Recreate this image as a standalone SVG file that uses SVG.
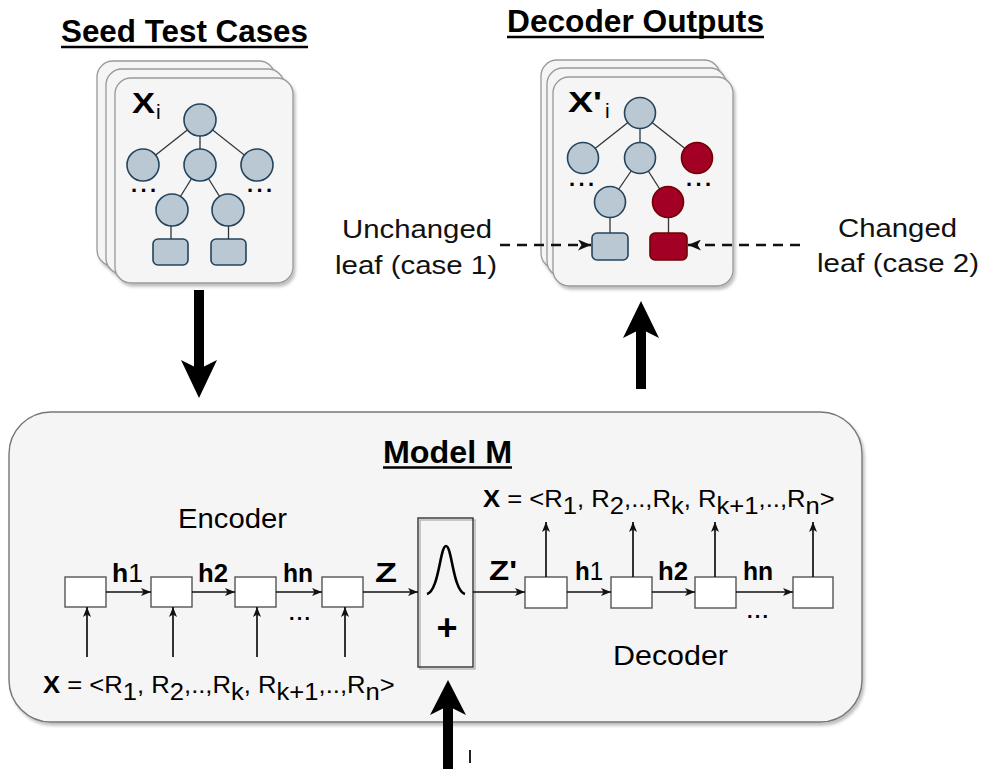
<svg xmlns="http://www.w3.org/2000/svg" width="982" height="769" viewBox="0 0 982 769">
<defs>
<style>
text{font-family:"Liberation Sans",Arial,sans-serif;fill:#000}
.title{font-weight:bold;font-size:31px}
.lbl{font-size:26px;fill:#111}
.card{fill:#f5f5f5;stroke:#999;stroke-width:1.3}
.tl{stroke:#333;stroke-width:1.3;fill:none}
.bn{fill:#bac8d3;stroke:#23445d;stroke-width:1.6}
.rn{fill:#a20025;stroke:#6f0000;stroke-width:1.6}
.cell{fill:#fff;stroke:#555;stroke-width:1.4}
.ar{stroke:#111;stroke-width:1.7;fill:none;marker-end:url(#ah)}
.dash{stroke:#111;stroke-width:2.6;fill:none;stroke-dasharray:10 7;marker-end:url(#dh)}
.big{fill:#000}
.ul{stroke:#000;stroke-width:2.5}
</style>
<marker id="ah" markerUnits="userSpaceOnUse" markerWidth="10" markerHeight="8" refX="10" refY="4" orient="auto">
<path d="M0,0 L10,4 L0,8 L2.5,4 z" fill="#111"/>
</marker>
<marker id="dh" markerUnits="userSpaceOnUse" markerWidth="13" markerHeight="11" refX="13" refY="5.5" orient="auto">
<path d="M0,0 L13,5.5 L0,11 L3.5,5.5 z" fill="#111"/>
</marker>
<filter id="sh" x="-10%" y="-10%" width="130%" height="130%">
<feDropShadow dx="2" dy="3" stdDeviation="1.5" flood-color="#000" flood-opacity="0.25"/>
</filter>
</defs>
<rect width="982" height="769" fill="#fff"/>

<g id="title-seed">
<text class="title" x="61" y="42" textLength="247" lengthAdjust="spacingAndGlyphs">Seed Test Cases</text>
<line class="ul" x1="61" y1="47" x2="308" y2="47"/>
</g>
<g id="title-decoder">
<text class="title" x="507" y="32" textLength="257" lengthAdjust="spacingAndGlyphs">Decoder Outputs</text>
<line class="ul" x1="507" y1="37" x2="764" y2="37"/>
</g>

<g id="seed-cards">
<rect class="card" x="97" y="61" width="178" height="205" rx="16" filter="url(#sh)"/>
<rect class="card" x="106" y="69" width="178" height="205" rx="16" filter="url(#sh)"/>
<rect class="card" x="115" y="78" width="178" height="205" rx="16" filter="url(#sh)"/>
<text x="132" y="113" font-size="29" font-weight="bold" textLength="23" lengthAdjust="spacingAndGlyphs">X</text>
<text x="156" y="119" font-size="21">i</text>
<g class="tl">
<line x1="200" y1="120" x2="143" y2="165"/><line x1="200" y1="120" x2="200" y2="165"/><line x1="200" y1="120" x2="257" y2="165"/>
<line x1="200" y1="165" x2="172" y2="210"/><line x1="200" y1="165" x2="228" y2="210"/>
<line x1="171" y1="210" x2="171" y2="239"/><line x1="228.5" y1="210" x2="228.5" y2="239"/>
</g>
<circle class="bn" cx="200" cy="120" r="16"/>
<circle class="bn" cx="143" cy="165" r="16"/>
<circle class="bn" cx="200" cy="165" r="16"/>
<circle class="bn" cx="257" cy="165" r="16"/>
<circle class="bn" cx="172" cy="210" r="16"/>
<circle class="bn" cx="228" cy="210" r="16"/>
<rect class="bn" x="153" y="239" width="35" height="26" rx="5"/>
<rect class="bn" x="211" y="239" width="35" height="26" rx="5"/>
<text x="131" y="192" font-size="22" font-weight="bold" textLength="25">...</text>
<text x="247" y="192" font-size="22" font-weight="bold" textLength="25">...</text>
</g>

<g id="decoder-cards">
<rect class="card" x="541" y="60" width="179" height="209" rx="16" filter="url(#sh)"/>
<rect class="card" x="547" y="68" width="179" height="209" rx="16" filter="url(#sh)"/>
<rect class="card" x="553" y="77" width="180" height="209" rx="16" filter="url(#sh)"/>
<text x="568" y="112" font-size="29" font-weight="bold" textLength="34" lengthAdjust="spacingAndGlyphs">X'</text>
<text x="605" y="118" font-size="21">i</text>
<g class="tl">
<line x1="640" y1="113" x2="583" y2="158"/><line x1="640" y1="113" x2="640" y2="158"/><line x1="640" y1="113" x2="697" y2="158"/>
<line x1="640" y1="158" x2="610" y2="202"/><line x1="640" y1="158" x2="668" y2="202"/>
<line x1="610" y1="202" x2="610" y2="233"/><line x1="668.5" y1="202" x2="668.5" y2="233"/>
</g>
<circle class="bn" cx="640" cy="113" r="15.5"/>
<circle class="bn" cx="583" cy="158" r="15.5"/>
<circle class="bn" cx="640" cy="158" r="15.5"/>
<circle class="rn" cx="697" cy="158" r="15.5"/>
<circle class="bn" cx="610" cy="202" r="15.5"/>
<circle class="rn" cx="668" cy="202" r="15.5"/>
<rect class="bn" x="592" y="233" width="36" height="27" rx="5"/>
<rect class="rn" x="650" y="233" width="37" height="27" rx="5"/>
<text x="569" y="186" font-size="22" font-weight="bold" textLength="25">...</text>
<text x="686" y="186" font-size="22" font-weight="bold" textLength="25">...</text>
</g>

<g id="label-unchanged">
<text class="lbl" x="342" y="238" textLength="150" lengthAdjust="spacingAndGlyphs">Unchanged</text>
<text class="lbl" x="335" y="274" textLength="162" lengthAdjust="spacingAndGlyphs">leaf (case 1)</text>
</g>
<g id="label-changed">
<text class="lbl" x="838" y="237" textLength="119" lengthAdjust="spacingAndGlyphs">Changed</text>
<text class="lbl" x="817" y="272" textLength="162" lengthAdjust="spacingAndGlyphs">leaf (case 2)</text>
</g>

<g id="model">
<rect x="9" y="412" width="853" height="310" rx="42" fill="#f5f5f5" stroke="#777" stroke-width="1.4" filter="url(#sh)"/>
<text x="383" y="463" font-size="32" font-weight="bold" textLength="129" lengthAdjust="spacingAndGlyphs">Model M</text>
<line class="ul" x1="383" y1="467.5" x2="512" y2="467.5"/>
</g>

<g id="encoder">
<text x="178" y="528" font-size="27" fill="#1a1a1a" textLength="109" lengthAdjust="spacingAndGlyphs">Encoder</text>
<rect class="cell" x="65" y="577" width="41" height="30"/>
<rect class="cell" x="151" y="577" width="41" height="30"/>
<rect class="cell" x="235" y="577" width="41" height="30"/>
<rect class="cell" x="322" y="577" width="41" height="30"/>
<text font-size="26" transform="translate(112,582) scale(1.02,1)"><tspan font-weight="bold">h</tspan>1</text>
<text font-size="26" font-weight="bold" transform="translate(198,582) scale(0.99,1)">h2</text>
<text font-size="26" font-weight="bold" transform="translate(283,582) scale(0.95,1)">hn</text>
<text x="375" y="582" font-size="27" font-weight="bold" textLength="22" lengthAdjust="spacingAndGlyphs">Z</text>
<text x="289" y="620" font-size="20" font-weight="bold" textLength="21">...</text>
<text font-size="24" transform="translate(43,693) scale(1.068,1)"><tspan font-weight="bold">X</tspan> = &lt;R<tspan dy="7">1</tspan><tspan dy="-7">, R</tspan><tspan dy="7">2</tspan><tspan dy="-7">,..,R</tspan><tspan dy="7">k</tspan><tspan dy="-7">, R</tspan><tspan dy="7">k+1</tspan><tspan dy="-7">,..,R</tspan><tspan dy="7">n</tspan><tspan dy="-7">&gt;</tspan></text>
</g>

<g id="noise">
<rect x="420" y="520" width="55" height="149" fill="none" stroke="#aaa" stroke-width="1.2"/>
<rect x="418" y="518" width="55" height="149" fill="none" stroke="#333" stroke-width="1.4"/>
<path d="M427,594 C439,591 440,546 446,546 C452,546 453,591 465,594" fill="none" stroke="#000" stroke-width="2.6"/>
<text x="447" y="640" font-size="36" font-weight="bold" text-anchor="middle">+</text>
</g>

<g id="decoder">
<text font-size="24" transform="translate(483,507) scale(1.068,1)"><tspan font-weight="bold">X</tspan> = &lt;R<tspan dy="7">1</tspan><tspan dy="-7">, R</tspan><tspan dy="7">2</tspan><tspan dy="-7">,..,R</tspan><tspan dy="7">k</tspan><tspan dy="-7">, R</tspan><tspan dy="7">k+1</tspan><tspan dy="-7">,..,R</tspan><tspan dy="7">n</tspan><tspan dy="-7">&gt;</tspan></text>
<rect class="cell" x="525" y="577" width="42" height="31"/>
<rect class="cell" x="611" y="577" width="41" height="31"/>
<rect class="cell" x="695" y="577" width="41" height="31"/>
<rect class="cell" x="793" y="577" width="40" height="31"/>
<text x="489" y="580" font-size="27" font-weight="bold" textLength="28" lengthAdjust="spacingAndGlyphs">Z'</text>
<text font-size="26" transform="translate(575,580) scale(0.93,1)"><tspan font-weight="bold">h</tspan>1</text>
<text font-size="26" font-weight="bold" transform="translate(658,580) scale(0.99,1)">h2</text>
<text font-size="26" font-weight="bold" transform="translate(743,580) scale(0.95,1)">hn</text>
<text x="747" y="618" font-size="20" font-weight="bold" textLength="21">...</text>
<text x="613" y="665" font-size="27" fill="#1a1a1a" textLength="115" lengthAdjust="spacingAndGlyphs">Decoder</text>
</g>

<g id="connectors">
<line class="ar" x1="106" y1="592" x2="151" y2="592"/>
<line class="ar" x1="192" y1="592" x2="235" y2="592"/>
<line class="ar" x1="276" y1="592" x2="322" y2="592"/>
<line class="ar" x1="363" y1="592" x2="418" y2="592"/>
<line class="ar" x1="473" y1="592" x2="525" y2="592"/>
<line class="ar" x1="567" y1="592" x2="611" y2="592"/>
<line class="ar" x1="652" y1="592" x2="695" y2="592"/>
<line class="ar" x1="736" y1="592" x2="793" y2="592"/>
<line class="ar" x1="87" y1="657" x2="87" y2="607"/>
<line class="ar" x1="173" y1="657" x2="173" y2="607"/>
<line class="ar" x1="257" y1="657" x2="257" y2="607"/>
<line class="ar" x1="345" y1="657" x2="345" y2="607"/>
<line class="ar" x1="546" y1="577" x2="546" y2="522"/>
<line class="ar" x1="633" y1="577" x2="633" y2="522"/>
<line class="ar" x1="715" y1="577" x2="715" y2="522"/>
<line class="ar" x1="813" y1="577" x2="813" y2="522"/>
<line class="dash" x1="500" y1="245" x2="591" y2="245"/>
<line class="dash" x1="800" y1="245" x2="688" y2="245"/>
<g class="big">
<rect x="194" y="290" width="10" height="80"/>
<polygon points="181,360 199,398 217,360 199,369"/>
<rect x="636" y="328" width="10" height="61"/>
<polygon points="623,338 641,301 659,338 641,329"/>
<rect x="443" y="705" width="10" height="64"/>
<polygon points="430,715 448,680 466,715 448,706"/>
</g>
<rect x="469" y="750" width="2" height="13" fill="#222"/>
</g>
</svg>
